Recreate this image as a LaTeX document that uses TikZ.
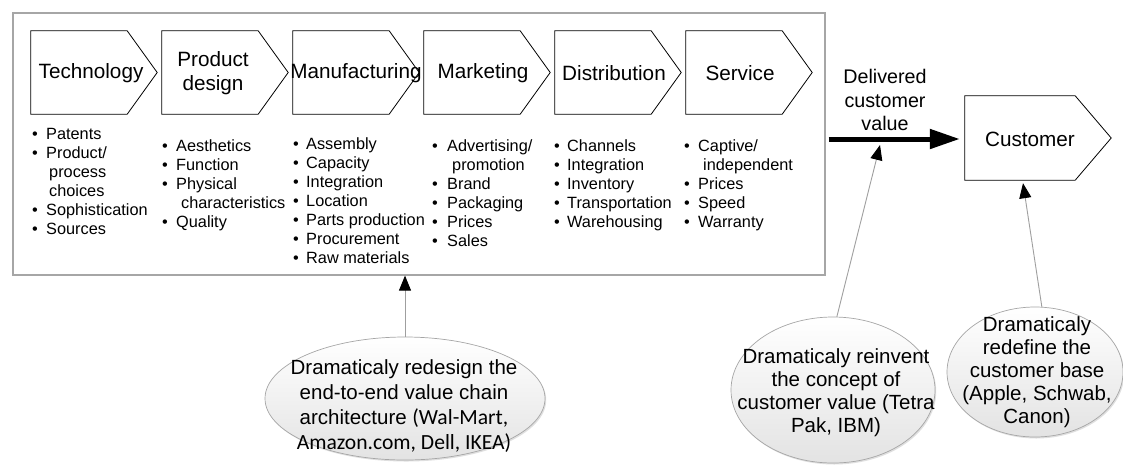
\documentclass[tikz,border=0pt]{standalone}
\usepackage{fontspec}
\setmainfont{Liberation Sans}
\newfontfamily\calibrisub{Carlito}
\usetikzlibrary{arrows.meta,calc,shapes.geometric,shadows}

\tikzset{
  chain frame/.style={draw=gray!70, line width=1.2pt, minimum width=812pt,
    minimum height=262pt, inner sep=0},
  chevbody/.style={inner sep=0},
  chevline/.style={draw=black, line width=0.8pt, fill=white, line join=miter},
  stage/.style={font=\fontsize{20.7}{24}\selectfont, align=center, inner sep=0},
  item/.style={font=\fontsize{16.3}{19}\selectfont, anchor=base west, inner sep=0},
  dot/.style={font=\fontsize{16.3}{19}\selectfont, anchor=base, inner sep=0},
  bubble/.style={ellipse, draw=gray!70, line width=0.7pt, top color=white,
    bottom color=gray!22, inner sep=0,
    drop shadow={shadow xshift=1.2pt, shadow yshift=-1.5pt, opacity=0.25}},
  bubbletext/.style={font=\fontsize{20.5}{23}\selectfont, align=center, inner sep=0},
  conn/.style={draw=gray!75, line width=0.9pt,
    -{Triangle[length=15pt,width=12pt,color=black]}},
  flow/.style={draw=black, line width=5pt, -{Triangle[length=30pt,width=19pt]}},
}

% chevron: name, centre x, centre y, body width, height, tip length
\newcommand\chevron[6]{%
  \node[chevbody, minimum width=#4pt, minimum height=#5pt] (#1) at (#2,#3) {};
  \draw[chevline] (#1.north west) -- (#1.north east) -- ($(#1.east)+(#6,0)$)
    -- (#1.south east) -- (#1.south west) -- cycle;
}

% bullet list: name, bullet x, text x, first baseline, entries (indent/text; 0 = bullet)
\newcommand\itemlist[5]{%
  \foreach \ind/\txt [count=\n] in {#5}{%
    \pgfmathsetmacro\yy{#4+19*(\n-1)}%
    \ifnum\ind=0
      \node[dot] (#1-dot\n) at (#2,\yy) {\textbullet};
      \node[item] (#1-\n) at (#3,\yy) {\txt};
    \else
      \node[item] (#1-\n) at ({#3+\ind},\yy) {\txt};
    \fi
  }%
}

\begin{document}
\begin{tikzpicture}[x=1pt,y=-1pt]
\useasboundingbox[fill=white] (0,0) rectangle (1123,467);

% value chain frame
\node[chain frame] (chain) at (419,144) {};

% stages of the value chain
\chevron{techbox}{79}{72.5}{96}{83}{30}
\chevron{designbox}{210}{72.5}{96}{83}{30}
\chevron{manufbox}{341}{72.5}{96}{83}{30}
\chevron{mktbox}{472}{72.5}{96}{83}{30}
\chevron{distbox}{603}{72.5}{96}{83}{30}
\chevron{svcbox}{734}{72.5}{96}{83}{30}

\node[stage] (tech) at (91,73) {Technology};
\node[stage] (design) at (213,73) {Product\\design};
\node[stage] (manuf) at (356,73) {Manufacturing};
\node[stage] (mkt) at (483,73) {Marketing};
\node[stage] (dist) at (614,73) {Distribution};
\node[stage] (svc) at (740,73) {Service};

% activities under each stage
\itemlist{techlist}{35}{46}{139}{0/Patents,0/{Product/},3/process,3/choices,0/Sophistication,0/Sources}
\itemlist{designlist}{165}{176}{151}{0/Aesthetics,0/Function,0/Physical,5/characteristics,0/Quality}
\itemlist{manuflist}{296}{306}{149}{0/Assembly,0/Capacity,0/Integration,0/Location,0/Parts production,0/Procurement,0/Raw materials}
\itemlist{mktlist}{435}{447}{151}{0/{Advertising/},5/promotion,0/Brand,0/Packaging,0/Prices,0/Sales}
\itemlist{distlist}{557}{567}{151}{0/Channels,0/Integration,0/Inventory,0/Transportation,0/Warehousing}
\itemlist{svclist}{687}{698}{151}{0/{Captive/},5/independent,0/Prices,0/Speed,0/Warranty}

% customer
\chevron{custbox}{1020}{138}{110}{84}{36}
\node[stage] (cust) at (1030,139) {Customer};

% delivered value
\node[font=\fontsize{19.7}{23.5}\selectfont, align=center, inner sep=0] (dvl) at (885,100)
  {Delivered\\customer\\value};
\draw[flow] ($(chain.east |- custbox.west)+(3,1)$) -- ($(custbox.west)+(-5,1)$);
\coordinate (dvhit) at (880,145);

% strategic levers
\node[bubble, minimum width=280pt, minimum height=123pt] (e1) at (405,398.5) {};
\node[bubbletext, font=\fontsize{20.5}{25}\selectfont] (e1text) at (404,406)
  {Dramaticaly redesign the\\end-to-end value chain\\architecture {\calibrisub\fontsize{21.6}{25}\selectfont (Wal-Mart,}\\
   {\calibrisub\fontsize{21.6}{25}\selectfont Amazon.com, Dell, IKEA)}};

\node[bubble, minimum width=204pt, minimum height=146pt] (e2) at (833,390) {};
\node[bubbletext] (e2text) at (836,393)
  {Dramaticaly reinvent\\the concept of\\customer value (Tetra\\Pak, IBM)};

\node[bubble, minimum width=176pt, minimum height=130pt] (e3) at (1035,372) {};
\node[bubbletext] (e3text) at (1037,372)
  {Dramaticaly\\redefine the\\customer base\\(Apple, Schwab,\\Canon)};

% connectors
\draw[conn] (e1.north) -- (e1.north |- chain.south);
\draw[conn] (e2.87) -- (dvhit);
\draw[conn] (e3.84) -- ($(custbox.south)+(3,3)$);
\end{tikzpicture}
\end{document}
